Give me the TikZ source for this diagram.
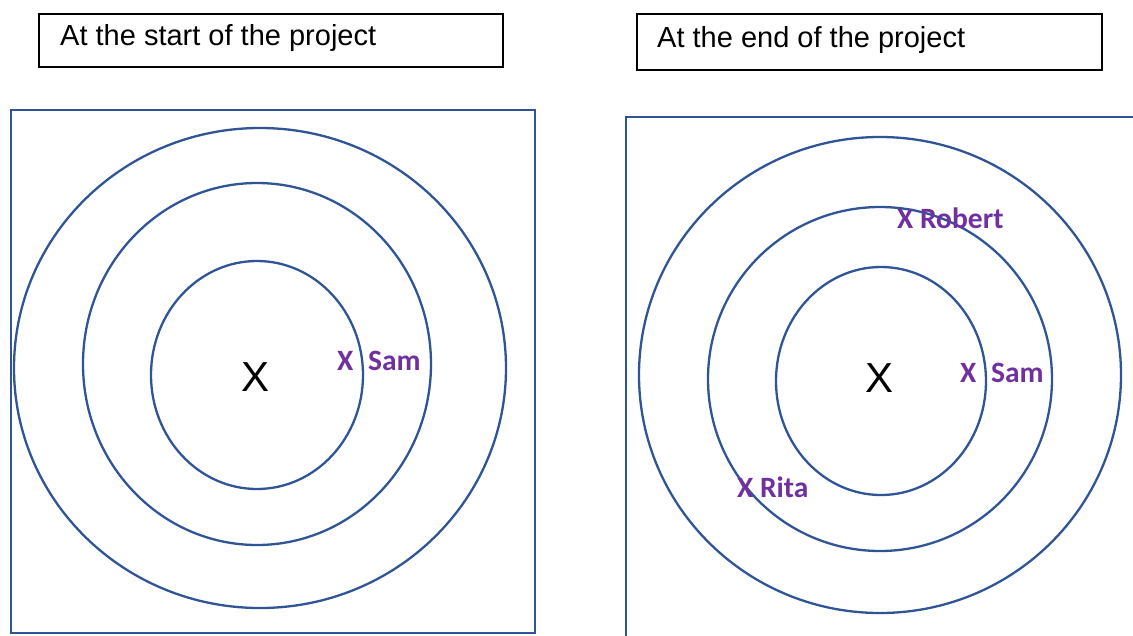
\documentclass[tikz,border=0pt]{standalone}
\usepackage{fontspec}
\setmainfont{Liberation Sans}
\newfontfamily\calib{Carlito}
\definecolor{ringblue}{HTML}{2F5597}
\definecolor{namepurple}{HTML}{7030A0}
\begin{document}
\begin{tikzpicture}[x=1pt,y=-1pt,
  ring/.style={draw=ringblue,line width=2.3pt},
  titlebox/.style={draw=black,line width=1.5pt},
  titletext/.style={anchor=west,inner sep=0pt,font=\fontsize{29}{33}\selectfont},
  centerx/.style={inner sep=0pt,font=\fontsize{42}{46}\selectfont},
  personlabel/.style={inner sep=0pt,anchor=west,text=namepurple,font=\calib\bfseries\fontsize{29.5}{33}\selectfont}]
\useasboundingbox (0,0) rectangle (1133,635);
% title boxes
\draw[titlebox] (39,14) rectangle (503,67);
\node[titletext] (t1) at (60,38) {At the start of the project};
\draw[titlebox] (637,14) rectangle (1102,70);
\node[titletext] (t2) at (657,40) {At the end of the project};
% left frame and rings
\draw[ring] (11,110) rectangle (535,633);
\draw[ring] (260,368) ellipse [x radius=246, y radius=240];
\draw[ring] (257,364) ellipse [x radius=174, y radius=181];
\draw[ring] (257,375) ellipse [x radius=106, y radius=114];
\node[centerx] (c1) at (256,377) {X};
\node[personlabel] (sam1) at (337,361) {X\hspace{0.5em}Sam};
% right frame and rings
\draw[ring] (626,636) -- (626,117) -- (1134,117);
\draw[ring] (880,375) ellipse [x radius=241, y radius=238];
\draw[ring] (880,379) ellipse [x radius=172, y radius=172];
\draw[ring] (881,381) ellipse [x radius=105, y radius=114];
\node[centerx] (c2) at (879,378) {X};
\node[personlabel] (sam2) at (960,373) {X\hspace{0.5em}Sam};
\node[personlabel] (robert) at (897,218) {X Robert};
\node[personlabel] (rita) at (737,487) {X Rita};
\end{tikzpicture}
\end{document}
